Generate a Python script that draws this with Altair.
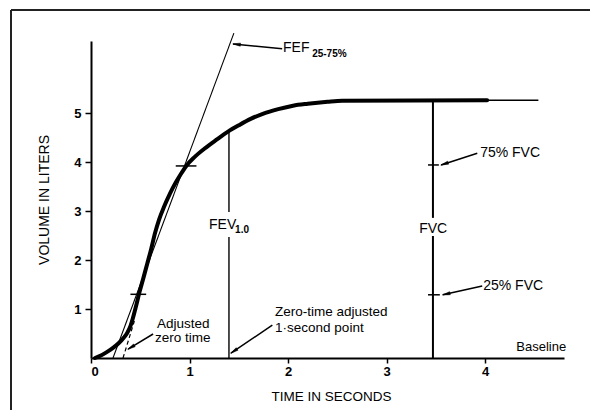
import math
import altair as alt
import pandas as pd

# ---- data (time in s, volume in L) ----
curve_t = [0.04, 0.10, 0.16, 0.22, 0.28, 0.33, 0.37, 0.40, 0.43, 0.46, 0.49, 0.53,
           0.57, 0.61, 0.65, 0.69, 0.74, 0.80, 0.86, 0.92, 0.97, 1.05, 1.15, 1.27,
           1.39, 1.50, 1.62, 1.75, 1.90, 2.05, 2.20, 2.40, 2.55, 4.02]
curve_v = [0.00, 0.05, 0.12, 0.20, 0.30, 0.41, 0.52, 0.65, 0.85, 1.08, 1.33, 1.62,
           1.92, 2.22, 2.55, 2.82, 3.08, 3.35, 3.58, 3.78, 3.93, 4.10, 4.27, 4.45,
           4.62, 4.75, 4.88, 4.99, 5.08, 5.15, 5.19, 5.23, 5.25, 5.26]
flat_t = [4.02, 4.54]
flat_v = [5.26, 5.26]
tangent_t = [0.223, 1.45]
tangent_v = [0.0, 6.63]
dash_t = [0.325, 0.44]
dash_v = [0.0, 0.755]

# vertical segments: (t, v_from, v_to, width)
vseg_t = [1.40, 1.40, 3.47, 3.47]
vseg_v1 = [0.0, 2.98, 0.0, 2.86]
vseg_v2 = [2.47, 4.63, 2.49, 5.25]
vseg_w = [1.4, 1.4, 2.0, 2.0]

# short horizontal marks: (t_from, t_to, v)
hmark_t1 = [0.40, 0.86, 3.42, 3.42]
hmark_t2 = [0.56, 1.07, 3.53, 3.54]
hmark_v = [1.30, 3.92, 3.94, 1.29]

# arrows: tail -> tip
arrow_tail_t = [1.94, 3.92, 3.97, 0.63, 1.84]
arrow_tail_v = [6.31, 4.18, 1.47, 0.49, 0.67]
arrow_tip_t = [1.442, 3.553, 3.57, 0.376, 1.42]
arrow_tip_v = [6.41, 3.94, 1.29, 0.18, 0.10]

# text labels
label_text = ["FEF", "75% FVC", "25% FVC", "FVC", "FEV", "Adjusted", "zero time",
              "Zero-time adjusted", "1\u00b7second point", "Baseline"]
label_t = [1.949, 3.949, 3.98, 3.472, 1.198, 0.670, 0.650, 1.868, 1.868, 4.822]
label_v = [6.33, 4.18, 1.47, 2.63, 2.71, 0.70, 0.40, 0.93, 0.61, 0.22]
label_align = ["left", "left", "left", "center", "left", "left", "left", "left", "left", "right"]
label_size = [14, 14, 14, 14, 14, 13.5, 13.5, 13.5, 13.5, 13]

sub_text = ["25-75%", "1.0"]
sub_t = [2.244, 1.462]
sub_v = [6.21, 2.61]

x_ticks = [0, 1, 2, 3, 4]
y_ticks = [1, 2, 3, 4, 5]

FONT = "Liberation Sans"
PX_X = 473 / 4.8
PX_Y = 317 / 6.47

xs = alt.Scale(domain=[0, 4.8], nice=False, zero=False)
ys = alt.Scale(domain=[0, 6.47], nice=False, zero=False)

X = alt.X("t:Q", scale=xs,
          axis=alt.Axis(values=x_ticks, format="d", grid=False, domainColor="black",
                        domainWidth=2, tickColor="black", tickWidth=1.5, tickSize=5,
                        labelFont=FONT, labelFontSize=13, labelFontWeight="bold",
                        labelColor="black", labelPadding=2, title="TIME IN SECONDS",
                        titleFont=FONT, titleFontSize=13.5, titleFontWeight="normal",
                        titleColor="black", titleX=240, titleY=38, titleBaseline="middle",
                        titleAnchor="middle", titleAlign="center"))
Y = alt.Y("v:Q", scale=ys,
          axis=alt.Axis(values=y_ticks, format="d", grid=False, domainColor="black",
                        domainWidth=2, tickColor="black", tickWidth=1.5, tickSize=6,
                        labelFont=FONT, labelFontSize=13, labelFontWeight="bold",
                        labelColor="black", labelPadding=4, title="VOLUME IN LITERS",
                        titleFont=FONT, titleFontSize=14, titleFontWeight="normal",
                        titleColor="black", titleX=-47, titleY=158.5, titleAngle=-90,
                        titleBaseline="middle", titleAlign="center"))

curve_df = pd.DataFrame({"t": curve_t, "v": curve_v})
curve = alt.Chart(curve_df).mark_line(color="black", strokeWidth=4, strokeCap="round",
                                      interpolate="monotone").encode(x=X, y=Y)

flat = alt.Chart(pd.DataFrame({"t": flat_t, "v": flat_v})).mark_line(
    color="black", strokeWidth=1.6).encode(x="t:Q", y="v:Q")

tangent = alt.Chart(pd.DataFrame({"t": tangent_t, "v": tangent_v})).mark_line(
    color="black", strokeWidth=1.1).encode(x="t:Q", y="v:Q")

dash = alt.Chart(pd.DataFrame({"t": dash_t, "v": dash_v})).mark_line(
    color="black", strokeWidth=1.2, strokeDash=[4, 3]).encode(x="t:Q", y="v:Q")

vdf = pd.DataFrame({"t": vseg_t, "v": vseg_v1, "v2": vseg_v2, "w": vseg_w})
vsegs = alt.Chart(vdf).mark_rule(color="black").encode(
    x="t:Q", y="v:Q", y2="v2:Q", strokeWidth=alt.StrokeWidth("w:Q", scale=None))

hdf = pd.DataFrame({"t": hmark_t1, "t2": hmark_t2, "v": hmark_v})
hmarks = alt.Chart(hdf).mark_rule(color="black", strokeWidth=1.5).encode(
    x="t:Q", x2="t2:Q", y="v:Q")

adf = pd.DataFrame({"t": arrow_tail_t, "v": arrow_tail_v,
                    "t2": arrow_tip_t, "v2": arrow_tip_v})
arrow_lines = alt.Chart(adf).mark_rule(color="black", strokeWidth=1.5).encode(
    x="t:Q", y="v:Q", x2="t2:Q", y2="v2:Q")

heads = []
for a, b, c, d in zip(arrow_tail_t, arrow_tail_v, arrow_tip_t, arrow_tip_v):
    dx = (c - a) * PX_X
    dy = -(d - b) * PX_Y
    ang = (math.degrees(math.atan2(dx, -dy)) + 360) % 360
    L = math.hypot(dx, dy)
    back = 3.5
    ht = c - (dx / L) * back / PX_X
    hv = d + (dy / L) * back / PX_Y
    heads.append({"t": ht, "v": hv, "ang": ang})
head_marks = alt.Chart(pd.DataFrame(heads)).mark_point(
    shape="M0,-1L0.4,1L-0.4,1Z", filled=True, fill="black", stroke="black",
    strokeWidth=0.5, opacity=1, size=60).encode(
    x="t:Q", y="v:Q", angle=alt.Angle("ang:Q", scale=None))

ldf = pd.DataFrame({"t": label_t, "v": label_v, "text": label_text,
                    "align": label_align, "size": label_size})
texts = []
for al in ["left", "center", "right"]:
    sub = ldf[ldf["align"] == al]
    texts.append(alt.Chart(sub).mark_text(align=al, baseline="middle", font=FONT,
                                          color="black").encode(
        x="t:Q", y="v:Q", text="text:N", size=alt.Size("size:Q", scale=None)))

sdf = pd.DataFrame({"t": sub_t, "v": sub_v, "text": sub_text})
subs = alt.Chart(sdf).mark_text(align="left", baseline="middle", font=FONT, fontSize=10,
                                fontWeight="bold", color="black").encode(
    x="t:Q", y="v:Q", text="text:N")

# outer frame (decorative border of the figure)
frame_top = alt.Chart(pd.DataFrame({"k": [0]})).mark_rule(
    color="#222", strokeWidth=2).encode(x=alt.value(-80), x2=alt.value(520), y=alt.value(-31))
frame_left = alt.Chart(pd.DataFrame({"k": [0]})).mark_rule(
    color="#222", strokeWidth=2).encode(x=alt.value(-80), y=alt.value(-31), y2=alt.value(400))

chart = alt.layer(
    curve, flat, tangent, dash, vsegs, hmarks, arrow_lines, head_marks,
    *texts, subs, frame_top, frame_left
).properties(
    width=473, height=317,
    padding={"left": 83, "top": 33, "right": 26, "bottom": 52},
    autosize="none",
    background="white",
).configure_view(stroke=None)

chart.save("out.html", embed_options={"renderer": "svg", "actions": False})
